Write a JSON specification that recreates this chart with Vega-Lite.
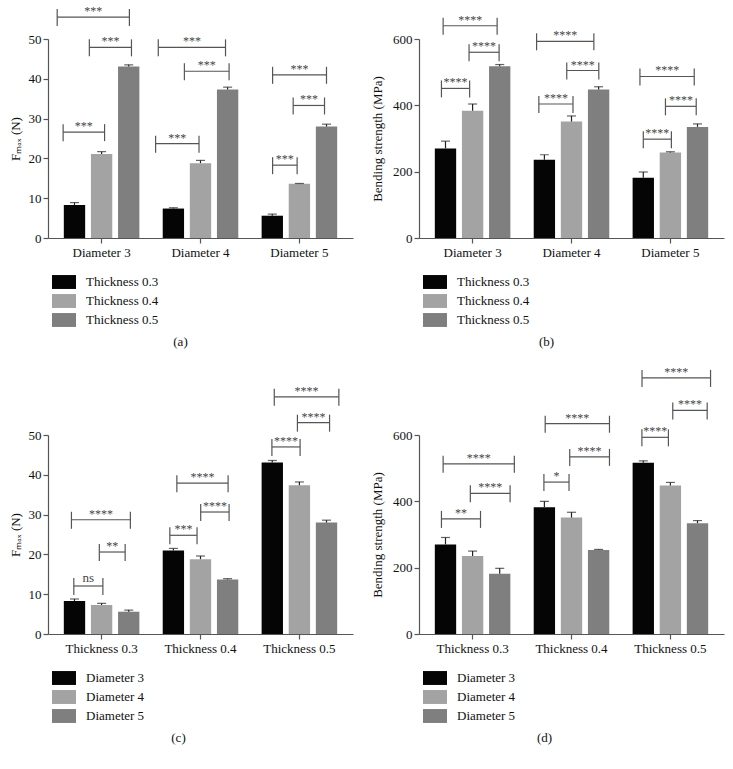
{
  "$schema": "https://vega.github.io/schema/vega-lite/v6.json",
  "padding": {"left": 9, "top": 5, "right": 5, "bottom": 5},
  "background": "white",
  "config": {
    "font": "Liberation Serif",
    "view": {"stroke": null},
    "axis": {"domainColor": "#555", "tickColor": "#555", "labelColor": "#111", "titleColor": "#111", "labelFontSize": 13, "titleFontSize": 13, "titleFontWeight": "normal", "grid": false, "tickSize": 5, "domainWidth": 1.2, "tickWidth": 1.2, "labelFont": "Liberation Serif", "titleFont": "Liberation Serif"},
    "legend": {"orient": "none", "legendX": 4, "legendY": 231, "title": null, "symbolType": "M-1,-0.58H1V0.58H-1Z", "symbolSize": 576, "symbolStrokeWidth": 0, "labelFontSize": 13, "labelFont": "Liberation Serif", "labelColor": "#111", "labelOffset": 10, "rowPadding": 0, "direction": "vertical"}
  },
  "resolve": {"scale": {"color": "independent", "xOffset": "independent"}, "legend": {"color": "independent"}},
  "datasets": {
    "a": [
      {"group": "Diameter 3", "series": "Thickness 0.3", "value": 8.3, "hi": 8.9},
      {"group": "Diameter 3", "series": "Thickness 0.4", "value": 21.1, "hi": 21.7},
      {"group": "Diameter 3", "series": "Thickness 0.5", "value": 43.1, "hi": 43.5},
      {"group": "Diameter 4", "series": "Thickness 0.3", "value": 7.4, "hi": 7.6},
      {"group": "Diameter 4", "series": "Thickness 0.4", "value": 18.8, "hi": 19.5},
      {"group": "Diameter 4", "series": "Thickness 0.5", "value": 37.3, "hi": 37.9},
      {"group": "Diameter 5", "series": "Thickness 0.3", "value": 5.6, "hi": 6.0},
      {"group": "Diameter 5", "series": "Thickness 0.4", "value": 13.6, "hi": 13.7},
      {"group": "Diameter 5", "series": "Thickness 0.5", "value": 28.0, "hi": 28.6}
    ],
    "b": [
      {"group": "Diameter 3", "series": "Thickness 0.3", "value": 270, "hi": 292},
      {"group": "Diameter 3", "series": "Thickness 0.4", "value": 384, "hi": 404},
      {"group": "Diameter 3", "series": "Thickness 0.5", "value": 518, "hi": 523},
      {"group": "Diameter 4", "series": "Thickness 0.3", "value": 236, "hi": 251},
      {"group": "Diameter 4", "series": "Thickness 0.4", "value": 351, "hi": 368},
      {"group": "Diameter 4", "series": "Thickness 0.5", "value": 448, "hi": 456},
      {"group": "Diameter 5", "series": "Thickness 0.3", "value": 182, "hi": 199},
      {"group": "Diameter 5", "series": "Thickness 0.4", "value": 258, "hi": 260},
      {"group": "Diameter 5", "series": "Thickness 0.5", "value": 335, "hi": 344}
    ],
    "c": [
      {"group": "Thickness 0.3", "series": "Diameter 3", "value": 8.3, "hi": 8.8},
      {"group": "Thickness 0.3", "series": "Diameter 4", "value": 7.3, "hi": 7.7},
      {"group": "Thickness 0.3", "series": "Diameter 5", "value": 5.6, "hi": 6.0},
      {"group": "Thickness 0.4", "series": "Diameter 3", "value": 21.0, "hi": 21.5},
      {"group": "Thickness 0.4", "series": "Diameter 4", "value": 18.8, "hi": 19.6},
      {"group": "Thickness 0.4", "series": "Diameter 5", "value": 13.7, "hi": 13.9},
      {"group": "Thickness 0.5", "series": "Diameter 3", "value": 43.1, "hi": 43.6},
      {"group": "Thickness 0.5", "series": "Diameter 4", "value": 37.4, "hi": 38.2},
      {"group": "Thickness 0.5", "series": "Diameter 5", "value": 28.0, "hi": 28.6}
    ],
    "d": [
      {"group": "Thickness 0.3", "series": "Diameter 3", "value": 270, "hi": 291},
      {"group": "Thickness 0.3", "series": "Diameter 4", "value": 235, "hi": 250},
      {"group": "Thickness 0.3", "series": "Diameter 5", "value": 182, "hi": 198},
      {"group": "Thickness 0.4", "series": "Diameter 3", "value": 382, "hi": 400},
      {"group": "Thickness 0.4", "series": "Diameter 4", "value": 351, "hi": 367},
      {"group": "Thickness 0.4", "series": "Diameter 5", "value": 253, "hi": 255},
      {"group": "Thickness 0.5", "series": "Diameter 3", "value": 516, "hi": 522},
      {"group": "Thickness 0.5", "series": "Diameter 4", "value": 448, "hi": 457},
      {"group": "Thickness 0.5", "series": "Diameter 5", "value": 334, "hi": 342}
    ],
    "ab": [
      {"label": "***", "x1": -0.389, "x2": 0.03, "xm": -0.18, "y": 26.6},
      {"label": "***", "x1": -0.124, "x2": 0.302, "xm": 0.089, "y": 47.9},
      {"label": "***", "x1": -0.449, "x2": 0.281, "xm": -0.084, "y": 55.5},
      {"label": "***", "x1": 0.546, "x2": 0.985, "xm": 0.766, "y": 23.7},
      {"label": "***", "x1": 0.837, "x2": 1.289, "xm": 1.063, "y": 41.9},
      {"label": "***", "x1": 0.573, "x2": 1.253, "xm": 0.913, "y": 47.9},
      {"label": "***", "x1": 1.729, "x2": 1.977, "xm": 1.853, "y": 18.3},
      {"label": "***", "x1": 1.937, "x2": 2.254, "xm": 2.096, "y": 33.3},
      {"label": "***", "x1": 1.729, "x2": 2.274, "xm": 2.002, "y": 41.0}
    ],
    "bb": [
      {"label": "****", "x1": -0.315, "x2": -0.03, "xm": -0.173, "y": 451},
      {"label": "****", "x1": -0.036, "x2": 0.268, "xm": 0.116, "y": 560},
      {"label": "****", "x1": -0.298, "x2": 0.248, "xm": -0.025, "y": 640},
      {"label": "****", "x1": 0.67, "x2": 1.015, "xm": 0.843, "y": 404},
      {"label": "****", "x1": 0.952, "x2": 1.276, "xm": 1.114, "y": 505},
      {"label": "****", "x1": 0.647, "x2": 1.226, "xm": 0.937, "y": 593},
      {"label": "****", "x1": 1.726, "x2": 2.01, "xm": 1.868, "y": 298},
      {"label": "****", "x1": 1.95, "x2": 2.261, "xm": 2.106, "y": 397},
      {"label": "****", "x1": 1.692, "x2": 2.241, "xm": 1.967, "y": 487}
    ],
    "cb": [
      {"label": "ns", "x1": -0.281, "x2": 0.013, "xm": -0.134, "y": 12.06},
      {"label": "**", "x1": -0.023, "x2": 0.238, "xm": 0.108, "y": 20.6},
      {"label": "****", "x1": -0.305, "x2": 0.291, "xm": -0.007, "y": 28.7},
      {"label": "***", "x1": 0.69, "x2": 0.965, "xm": 0.828, "y": 24.8},
      {"label": "****", "x1": 1.002, "x2": 1.289, "xm": 1.146, "y": 30.65},
      {"label": "****", "x1": 0.761, "x2": 1.279, "xm": 1.02, "y": 37.9},
      {"label": "****", "x1": 1.722, "x2": 2.007, "xm": 1.865, "y": 47.0},
      {"label": "****", "x1": 1.98, "x2": 2.305, "xm": 2.143, "y": 53.1},
      {"label": "****", "x1": 1.746, "x2": 2.399, "xm": 2.073, "y": 59.6}
    ],
    "db": [
      {"label": "**", "x1": -0.315, "x2": 0.08, "xm": -0.118, "y": 347},
      {"label": "****", "x1": -0.023, "x2": 0.379, "xm": 0.178, "y": 424},
      {"label": "****", "x1": -0.298, "x2": 0.422, "xm": 0.062, "y": 513},
      {"label": "*", "x1": 0.721, "x2": 0.975, "xm": 0.848, "y": 458},
      {"label": "****", "x1": 0.982, "x2": 1.384, "xm": 1.183, "y": 534},
      {"label": "****", "x1": 0.734, "x2": 1.384, "xm": 1.059, "y": 634},
      {"label": "****", "x1": 1.712, "x2": 1.98, "xm": 1.846, "y": 593},
      {"label": "****", "x1": 2.024, "x2": 2.372, "xm": 2.198, "y": 674},
      {"label": "****", "x1": 1.713, "x2": 2.406, "xm": 2.06, "y": 772}
    ]
  },
  "columns": 2,
  "bounds": "flush",
  "spacing": {"row": 197, "column": 66},
  "concat": [
    {
      "width": 305, "height": 199,
      "resolve": {"scale": {"x": "independent"}},
      "layer": [
        {
          "data": {"name": "a"},
          "layer": [
            {"mark": {"type": "bar"},
             "encoding": {
               "x": {"field": "group", "type": "nominal", "sort": null, "scale": {"paddingInner": 0.236, "paddingOuter": 0.16}, "axis": {"title": "(a)", "titlePadding": 76, "titleX": 132, "labelAngle": 0, "labelPadding": 3}},
               "xOffset": {"field": "series", "type": "nominal", "sort": null, "scale": {"paddingInner": 0.213, "paddingOuter": 0}},
               "y": {"field": "value", "type": "quantitative", "scale": {"domain": [0, 50], "nice": false}, "axis": {"title": "Fₘₐₓ (N)", "values": [0, 10, 20, 30, 40, 50], "labelPadding": 2, "titlePadding": 6}},
               "color": {"field": "series", "type": "nominal", "sort": null, "scale": {"range": ["#050505", "#a3a3a3", "#7f7f7f"]}}
             }},
            {"mark": {"type": "rule", "color": "#222", "strokeWidth": 1.2},
             "encoding": {
               "x": {"field": "group", "type": "nominal", "sort": null},
               "xOffset": {"field": "series", "type": "nominal", "sort": null},
               "y": {"field": "value", "type": "quantitative", "axis": {"title": "Fₘₐₓ (N)", "values": [0, 10, 20, 30, 40, 50], "labelPadding": 2, "titlePadding": 6}},
               "y2": {"field": "hi"}
             }},
            {"mark": {"type": "tick", "color": "#222", "thickness": 1.2, "size": 9},
             "encoding": {
               "x": {"field": "group", "type": "nominal", "sort": null},
               "xOffset": {"field": "series", "type": "nominal", "sort": null},
               "y": {"field": "hi", "type": "quantitative", "axis": {"title": "Fₘₐₓ (N)", "values": [0, 10, 20, 30, 40, 50], "labelPadding": 2, "titlePadding": 6}}
             }}
          ]
        },
        {
          "data": {"name": "ab"},
          "layer": [
            {"mark": {"type": "rule", "color": "#555", "strokeWidth": 1.2},
             "encoding": {
               "x": {"field": "x1", "type": "quantitative", "scale": {"domain": [-0.542, 2.542], "nice": false, "zero": false}, "axis": null},
               "x2": {"field": "x2"},
               "y": {"field": "y", "type": "quantitative", "scale": {"domain": [0, 50], "nice": false}, "axis": {"title": "Fₘₐₓ (N)", "values": [0, 10, 20, 30, 40, 50], "labelPadding": 2, "titlePadding": 6}}
             }},
            {"mark": {"type": "rule", "color": "#555", "strokeWidth": 1.2, "yOffset": -8, "y2Offset": 9},
             "encoding": {
               "x": {"field": "x1", "type": "quantitative", "axis": null},
               "y": {"field": "y", "type": "quantitative", "axis": {"title": "Fₘₐₓ (N)", "values": [0, 10, 20, 30, 40, 50], "labelPadding": 2, "titlePadding": 6}},
               "y2": {"field": "y"}
             }},
            {"mark": {"type": "rule", "color": "#555", "strokeWidth": 1.2, "yOffset": -8, "y2Offset": 9},
             "encoding": {
               "x": {"field": "x2", "type": "quantitative", "axis": null},
               "y": {"field": "y", "type": "quantitative", "axis": {"title": "Fₘₐₓ (N)", "values": [0, 10, 20, 30, 40, 50], "labelPadding": 2, "titlePadding": 6}},
               "y2": {"field": "y"}
             }},
            {"mark": {"type": "text", "fontSize": 12, "color": "#444", "baseline": "alphabetic", "dy": -2},
             "encoding": {
               "x": {"field": "xm", "type": "quantitative", "axis": null},
               "y": {"field": "y", "type": "quantitative", "axis": {"title": "Fₘₐₓ (N)", "values": [0, 10, 20, 30, 40, 50], "labelPadding": 2, "titlePadding": 6}},
               "text": {"field": "label"}
             }}
          ]
        }
      ]
    },
    {
      "width": 305, "height": 199,
      "resolve": {"scale": {"x": "independent"}},
      "layer": [
        {
          "data": {"name": "b"},
          "layer": [
            {"mark": {"type": "bar"},
             "encoding": {
               "x": {"field": "group", "type": "nominal", "sort": null, "scale": {"paddingInner": 0.236, "paddingOuter": 0.16}, "axis": {"title": "(b)", "titlePadding": 76, "titleX": 127, "labelAngle": 0, "labelPadding": 3}},
               "xOffset": {"field": "series", "type": "nominal", "sort": null, "scale": {"paddingInner": 0.213, "paddingOuter": 0}},
               "y": {"field": "value", "type": "quantitative", "scale": {"domain": [0, 600], "nice": false}, "axis": {"title": "Bending strength (MPa)", "values": [0, 200, 400, 600], "labelPadding": 2, "titlePadding": 8}},
               "color": {"field": "series", "type": "nominal", "sort": null, "scale": {"range": ["#050505", "#a3a3a3", "#7f7f7f"]}}
             }},
            {"mark": {"type": "rule", "color": "#222", "strokeWidth": 1.2},
             "encoding": {
               "x": {"field": "group", "type": "nominal", "sort": null},
               "xOffset": {"field": "series", "type": "nominal", "sort": null},
               "y": {"field": "value", "type": "quantitative", "axis": {"title": "Bending strength (MPa)", "values": [0, 200, 400, 600], "labelPadding": 2, "titlePadding": 8}},
               "y2": {"field": "hi"}
             }},
            {"mark": {"type": "tick", "color": "#222", "thickness": 1.2, "size": 9},
             "encoding": {
               "x": {"field": "group", "type": "nominal", "sort": null},
               "xOffset": {"field": "series", "type": "nominal", "sort": null},
               "y": {"field": "hi", "type": "quantitative", "axis": {"title": "Bending strength (MPa)", "values": [0, 200, 400, 600], "labelPadding": 2, "titlePadding": 8}}
             }}
          ]
        },
        {
          "data": {"name": "bb"},
          "layer": [
            {"mark": {"type": "rule", "color": "#555", "strokeWidth": 1.2},
             "encoding": {
               "x": {"field": "x1", "type": "quantitative", "scale": {"domain": [-0.542, 2.542], "nice": false, "zero": false}, "axis": null},
               "x2": {"field": "x2"},
               "y": {"field": "y", "type": "quantitative", "scale": {"domain": [0, 600], "nice": false}, "axis": {"title": "Bending strength (MPa)", "values": [0, 200, 400, 600], "labelPadding": 2, "titlePadding": 8}}
             }},
            {"mark": {"type": "rule", "color": "#555", "strokeWidth": 1.2, "yOffset": -8, "y2Offset": 9},
             "encoding": {
               "x": {"field": "x1", "type": "quantitative", "axis": null},
               "y": {"field": "y", "type": "quantitative", "axis": {"title": "Bending strength (MPa)", "values": [0, 200, 400, 600], "labelPadding": 2, "titlePadding": 8}},
               "y2": {"field": "y"}
             }},
            {"mark": {"type": "rule", "color": "#555", "strokeWidth": 1.2, "yOffset": -8, "y2Offset": 9},
             "encoding": {
               "x": {"field": "x2", "type": "quantitative", "axis": null},
               "y": {"field": "y", "type": "quantitative", "axis": {"title": "Bending strength (MPa)", "values": [0, 200, 400, 600], "labelPadding": 2, "titlePadding": 8}},
               "y2": {"field": "y"}
             }},
            {"mark": {"type": "text", "fontSize": 12, "color": "#444", "baseline": "alphabetic", "dy": -2},
             "encoding": {
               "x": {"field": "xm", "type": "quantitative", "axis": null},
               "y": {"field": "y", "type": "quantitative", "axis": {"title": "Bending strength (MPa)", "values": [0, 200, 400, 600], "labelPadding": 2, "titlePadding": 8}},
               "text": {"field": "label"}
             }}
          ]
        }
      ]
    },
    {
      "width": 305, "height": 199,
      "resolve": {"scale": {"x": "independent"}},
      "layer": [
        {
          "data": {"name": "c"},
          "layer": [
            {"mark": {"type": "bar"},
             "encoding": {
               "x": {"field": "group", "type": "nominal", "sort": null, "scale": {"paddingInner": 0.236, "paddingOuter": 0.16}, "axis": {"title": "(c)", "titlePadding": 76, "titleX": 130, "labelAngle": 0, "labelPadding": 3}},
               "xOffset": {"field": "series", "type": "nominal", "sort": null, "scale": {"paddingInner": 0.213, "paddingOuter": 0}},
               "y": {"field": "value", "type": "quantitative", "scale": {"domain": [0, 50], "nice": false}, "axis": {"title": "Fₘₐₓ (N)", "values": [0, 10, 20, 30, 40, 50], "labelPadding": 2, "titlePadding": 6}},
               "color": {"field": "series", "type": "nominal", "sort": null, "scale": {"range": ["#050505", "#a3a3a3", "#7f7f7f"]}}
             }},
            {"mark": {"type": "rule", "color": "#222", "strokeWidth": 1.2},
             "encoding": {
               "x": {"field": "group", "type": "nominal", "sort": null},
               "xOffset": {"field": "series", "type": "nominal", "sort": null},
               "y": {"field": "value", "type": "quantitative", "axis": {"title": "Fₘₐₓ (N)", "values": [0, 10, 20, 30, 40, 50], "labelPadding": 2, "titlePadding": 6}},
               "y2": {"field": "hi"}
             }},
            {"mark": {"type": "tick", "color": "#222", "thickness": 1.2, "size": 9},
             "encoding": {
               "x": {"field": "group", "type": "nominal", "sort": null},
               "xOffset": {"field": "series", "type": "nominal", "sort": null},
               "y": {"field": "hi", "type": "quantitative", "axis": {"title": "Fₘₐₓ (N)", "values": [0, 10, 20, 30, 40, 50], "labelPadding": 2, "titlePadding": 6}}
             }}
          ]
        },
        {
          "data": {"name": "cb"},
          "layer": [
            {"mark": {"type": "rule", "color": "#555", "strokeWidth": 1.2},
             "encoding": {
               "x": {"field": "x1", "type": "quantitative", "scale": {"domain": [-0.542, 2.542], "nice": false, "zero": false}, "axis": null},
               "x2": {"field": "x2"},
               "y": {"field": "y", "type": "quantitative", "scale": {"domain": [0, 50], "nice": false}, "axis": {"title": "Fₘₐₓ (N)", "values": [0, 10, 20, 30, 40, 50], "labelPadding": 2, "titlePadding": 6}}
             }},
            {"mark": {"type": "rule", "color": "#555", "strokeWidth": 1.2, "yOffset": -8, "y2Offset": 9},
             "encoding": {
               "x": {"field": "x1", "type": "quantitative", "axis": null},
               "y": {"field": "y", "type": "quantitative", "axis": {"title": "Fₘₐₓ (N)", "values": [0, 10, 20, 30, 40, 50], "labelPadding": 2, "titlePadding": 6}},
               "y2": {"field": "y"}
             }},
            {"mark": {"type": "rule", "color": "#555", "strokeWidth": 1.2, "yOffset": -8, "y2Offset": 9},
             "encoding": {
               "x": {"field": "x2", "type": "quantitative", "axis": null},
               "y": {"field": "y", "type": "quantitative", "axis": {"title": "Fₘₐₓ (N)", "values": [0, 10, 20, 30, 40, 50], "labelPadding": 2, "titlePadding": 6}},
               "y2": {"field": "y"}
             }},
            {"transform": [{"filter": "datum.label != 'ns'"}],
             "mark": {"type": "text", "fontSize": 12, "color": "#444", "baseline": "alphabetic", "dy": -2},
             "encoding": {
               "x": {"field": "xm", "type": "quantitative", "axis": null},
               "y": {"field": "y", "type": "quantitative", "axis": {"title": "Fₘₐₓ (N)", "values": [0, 10, 20, 30, 40, 50], "labelPadding": 2, "titlePadding": 6}},
               "text": {"field": "label"}
             }},
            {"transform": [{"filter": "datum.label == 'ns'"}],
             "mark": {"type": "text", "fontSize": 13, "color": "#444", "baseline": "alphabetic", "dy": -4},
             "encoding": {
               "x": {"field": "xm", "type": "quantitative", "axis": null},
               "y": {"field": "y", "type": "quantitative", "axis": {"title": "Fₘₐₓ (N)", "values": [0, 10, 20, 30, 40, 50], "labelPadding": 2, "titlePadding": 6}},
               "text": {"field": "label"}
             }}
          ]
        }
      ]
    },
    {
      "width": 305, "height": 199,
      "resolve": {"scale": {"x": "independent"}},
      "layer": [
        {
          "data": {"name": "d"},
          "layer": [
            {"mark": {"type": "bar"},
             "encoding": {
               "x": {"field": "group", "type": "nominal", "sort": null, "scale": {"paddingInner": 0.236, "paddingOuter": 0.16}, "axis": {"title": "(d)", "titlePadding": 76, "titleX": 125, "labelAngle": 0, "labelPadding": 3}},
               "xOffset": {"field": "series", "type": "nominal", "sort": null, "scale": {"paddingInner": 0.213, "paddingOuter": 0}},
               "y": {"field": "value", "type": "quantitative", "scale": {"domain": [0, 600], "nice": false}, "axis": {"title": "Bending strength (MPa)", "values": [0, 200, 400, 600], "labelPadding": 2, "titlePadding": 8}},
               "color": {"field": "series", "type": "nominal", "sort": null, "scale": {"range": ["#050505", "#a3a3a3", "#7f7f7f"]}}
             }},
            {"mark": {"type": "rule", "color": "#222", "strokeWidth": 1.2},
             "encoding": {
               "x": {"field": "group", "type": "nominal", "sort": null},
               "xOffset": {"field": "series", "type": "nominal", "sort": null},
               "y": {"field": "value", "type": "quantitative", "axis": {"title": "Bending strength (MPa)", "values": [0, 200, 400, 600], "labelPadding": 2, "titlePadding": 8}},
               "y2": {"field": "hi"}
             }},
            {"mark": {"type": "tick", "color": "#222", "thickness": 1.2, "size": 9},
             "encoding": {
               "x": {"field": "group", "type": "nominal", "sort": null},
               "xOffset": {"field": "series", "type": "nominal", "sort": null},
               "y": {"field": "hi", "type": "quantitative", "axis": {"title": "Bending strength (MPa)", "values": [0, 200, 400, 600], "labelPadding": 2, "titlePadding": 8}}
             }}
          ]
        },
        {
          "data": {"name": "db"},
          "layer": [
            {"mark": {"type": "rule", "color": "#555", "strokeWidth": 1.2},
             "encoding": {
               "x": {"field": "x1", "type": "quantitative", "scale": {"domain": [-0.542, 2.542], "nice": false, "zero": false}, "axis": null},
               "x2": {"field": "x2"},
               "y": {"field": "y", "type": "quantitative", "scale": {"domain": [0, 600], "nice": false}, "axis": {"title": "Bending strength (MPa)", "values": [0, 200, 400, 600], "labelPadding": 2, "titlePadding": 8}}
             }},
            {"mark": {"type": "rule", "color": "#555", "strokeWidth": 1.2, "yOffset": -8, "y2Offset": 9},
             "encoding": {
               "x": {"field": "x1", "type": "quantitative", "axis": null},
               "y": {"field": "y", "type": "quantitative", "axis": {"title": "Bending strength (MPa)", "values": [0, 200, 400, 600], "labelPadding": 2, "titlePadding": 8}},
               "y2": {"field": "y"}
             }},
            {"mark": {"type": "rule", "color": "#555", "strokeWidth": 1.2, "yOffset": -8, "y2Offset": 9},
             "encoding": {
               "x": {"field": "x2", "type": "quantitative", "axis": null},
               "y": {"field": "y", "type": "quantitative", "axis": {"title": "Bending strength (MPa)", "values": [0, 200, 400, 600], "labelPadding": 2, "titlePadding": 8}},
               "y2": {"field": "y"}
             }},
            {"mark": {"type": "text", "fontSize": 12, "color": "#444", "baseline": "alphabetic", "dy": -2},
             "encoding": {
               "x": {"field": "xm", "type": "quantitative", "axis": null},
               "y": {"field": "y", "type": "quantitative", "axis": {"title": "Bending strength (MPa)", "values": [0, 200, 400, 600], "labelPadding": 2, "titlePadding": 8}},
               "text": {"field": "label"}
             }}
          ]
        }
      ]
    }
  ]
}
